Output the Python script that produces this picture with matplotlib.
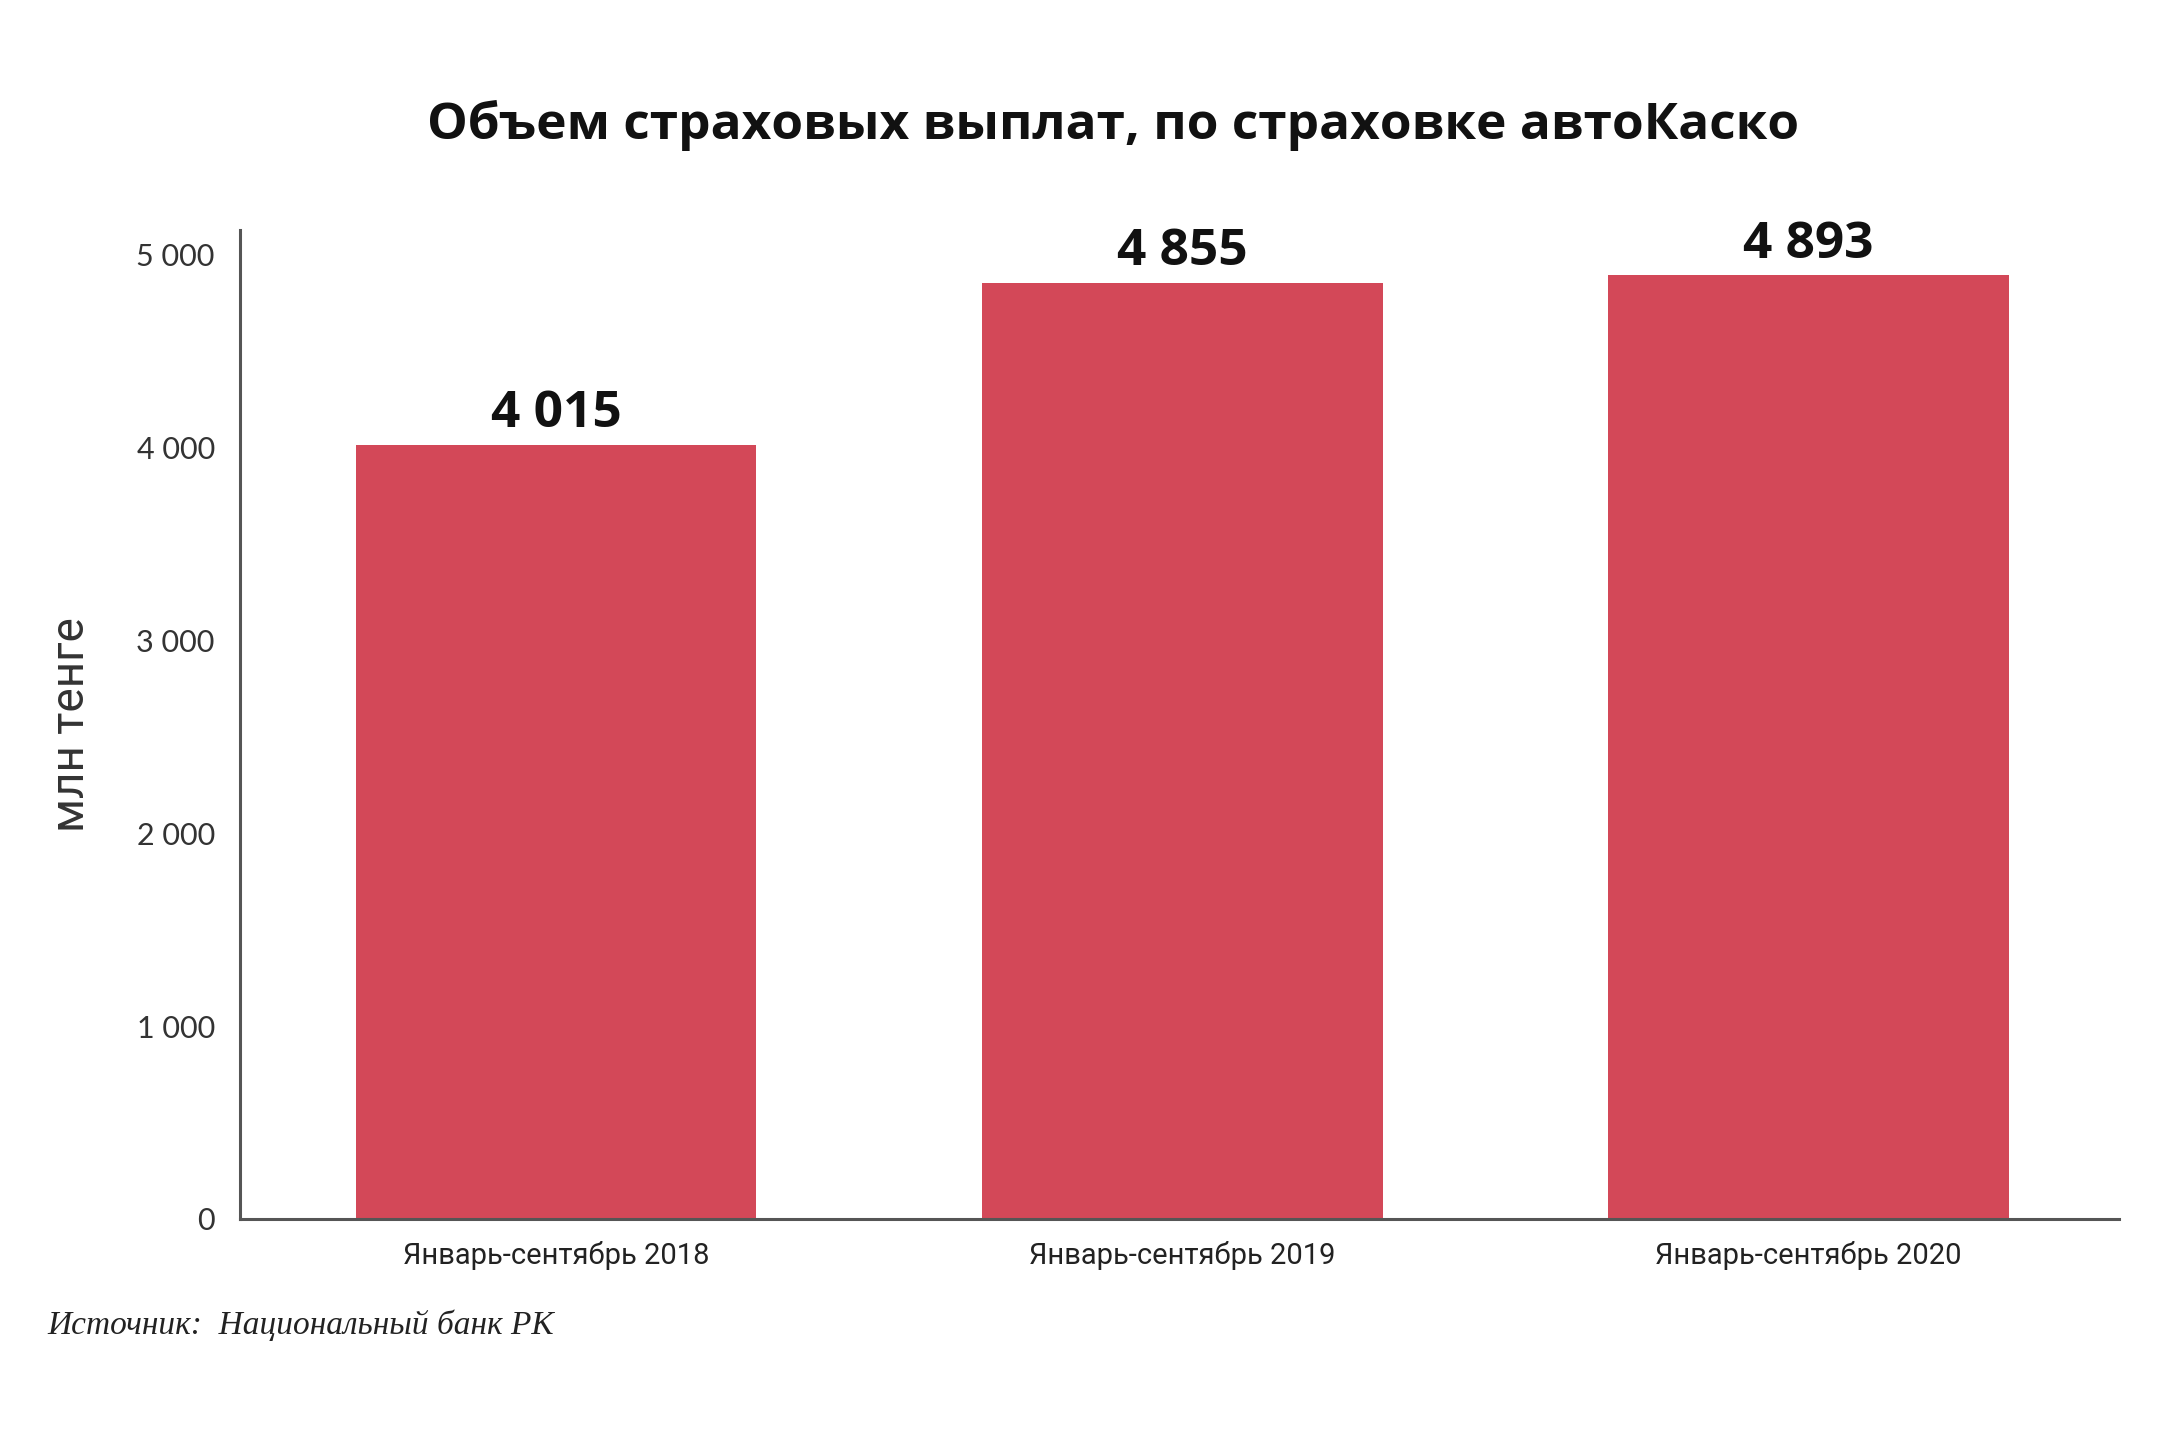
import matplotlib
matplotlib.use("Agg")
import matplotlib.pyplot as plt

categories = ["Январь-сентябрь 2018", "Январь-сентябрь 2019", "Январь-сентябрь 2020"]
values = [4015, 4855, 4893]
value_labels = ["4 015", "4 855", "4 893"]
yticks = [0, 1000, 2000, 3000, 4000, 5000]
ytick_labels = ["0", "1 000", "2 000", "3 000", "4 000", "5 000"]
title = "Объем страховых выплат, по страховке автоКаско"
ylabel = "млн тенге"
source = "Источник:  Национальный банк РК"

fig = plt.figure(figsize=(21.6, 14.4), dpi=100)
ax = fig.add_axes([0.111, 0.1535, 0.870, 0.687])

x = list(range(len(categories)))
ax.bar(x, values, width=0.64, color="#D34858", zorder=2)
for xi, v, lab in zip(x, values, value_labels):
    ax.text(xi, v + 30, lab, ha="center", va="bottom", fontsize=37,
            fontweight="bold", family="Open Sans", color="#111111")

ax.set_xlim(-0.505, 2.496)
ax.set_ylim(0, 5130)
ax.set_yticks(yticks)
ax.set_yticklabels(ytick_labels, family="Lato", fontsize=22, color="#333333")
ax.set_xticks(x)
ax.set_xticklabels(categories, family="Roboto", fontsize=21, color="#222222")
ax.tick_params(axis="y", length=0, pad=18)
ax.tick_params(axis="x", length=0, pad=16)

for s in ["top", "right"]:
    ax.spines[s].set_visible(False)
for s in ["left", "bottom"]:
    ax.spines[s].set_color("#555555")
    ax.spines[s].set_linewidth(2.2)

ax.set_ylabel(ylabel, family="Roboto", fontsize=33, color="#333333")
ax.yaxis.set_label_coords(-0.078, 0.5)

fig.text(0.5155, 0.913, title, ha="center", va="center", fontsize=37,
         fontweight="bold", family="Open Sans", color="#111111")
fig.text(0.022, 0.08, source, ha="left", va="center", fontsize=24,
         style="italic", family="Liberation Serif", color="#222222")

fig.savefig("out.png", dpi=100, facecolor="white")
